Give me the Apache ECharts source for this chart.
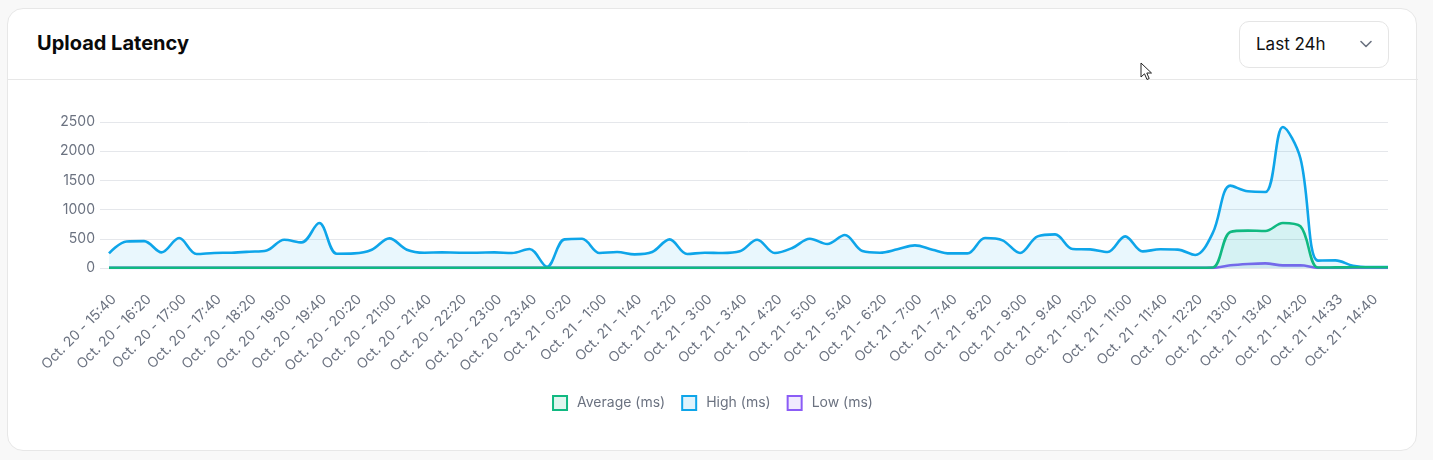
<!DOCTYPE html>
<html>
<head>
<meta charset="utf-8">
<script src="https://cdn.jsdelivr.net/npm/echarts@6/dist/echarts.min.js"></script>
<style>
  html, body { margin: 0; padding: 0; width: 1433px; height: 460px; background: #f8f8f8; font-family: Inter, "Noto Sans", sans-serif; overflow: hidden; }
  .card { position: absolute; left: 7px; top: 8px; width: 1410px; height: 443px; background: #fff; border: 1px solid #e7e7e7; border-radius: 16px; box-sizing: border-box; }
  .divider { position: absolute; left: 7px; top: 79px; width: 1411px; height: 1px; background: #e7e7e7; }
  .title { position: absolute; left: 37px; top: 31px; font-size: 20px; font-weight: 700; color: #0a0a0a; line-height: 24px; }
  .dropdown { position: absolute; left: 1239px; top: 21px; width: 150px; height: 47px; border: 1px solid #e5e5e5; border-radius: 10px; box-sizing: border-box; background: #fff; }
  .dropdown span { position: absolute; left: 16px; top: 12px; font-size: 17px; line-height: 20px; color: #111; }
  .dropdown svg { position: absolute; left: 119px; top: 17px; }
  #chart { position: absolute; left: 0; top: 0; width: 1425px; height: 460px; }
  .cursor { position: absolute; left: 1140px; top: 62px; }
</style>
</head>
<body>
<div class="card"></div>
<div class="divider"></div>
<div class="title">Upload Latency</div>
<div class="dropdown"><span>Last 24h</span>
  <svg width="14" height="10" viewBox="0 0 14 10"><path d="M2 2.5 L7 7.5 L12 2.5" fill="none" stroke="#6b7280" stroke-width="1.6" stroke-linecap="round" stroke-linejoin="round"/></svg>
</div>
<div id="chart"></div>
<svg class="cursor" width="14" height="20" viewBox="0 0 14 20"><path d="M1 1 L1 15 L4.5 11.8 L7 17.5 L9.2 16.5 L6.8 11 L11.5 11 Z" fill="#fff" stroke="#222" stroke-width="1"/></svg>
<script>
const categories = [
  "Oct. 20 - 15:40","Oct. 20 - 16:00","Oct. 20 - 16:20","Oct. 20 - 16:40","Oct. 20 - 17:00","Oct. 20 - 17:20",
  "Oct. 20 - 17:40","Oct. 20 - 18:00","Oct. 20 - 18:20","Oct. 20 - 18:40","Oct. 20 - 19:00","Oct. 20 - 19:20",
  "Oct. 20 - 19:40","Oct. 20 - 20:00","Oct. 20 - 20:20","Oct. 20 - 20:40","Oct. 20 - 21:00","Oct. 20 - 21:20",
  "Oct. 20 - 21:40","Oct. 20 - 22:00","Oct. 20 - 22:20","Oct. 20 - 22:40","Oct. 20 - 23:00","Oct. 20 - 23:20",
  "Oct. 20 - 23:40","Oct. 21 - 0:00","Oct. 21 - 0:20","Oct. 21 - 0:40","Oct. 21 - 1:00","Oct. 21 - 1:20",
  "Oct. 21 - 1:40","Oct. 21 - 2:00","Oct. 21 - 2:20","Oct. 21 - 2:40","Oct. 21 - 3:00","Oct. 21 - 3:20",
  "Oct. 21 - 3:40","Oct. 21 - 4:00","Oct. 21 - 4:20","Oct. 21 - 4:40","Oct. 21 - 5:00","Oct. 21 - 5:20",
  "Oct. 21 - 5:40","Oct. 21 - 6:00","Oct. 21 - 6:20","Oct. 21 - 6:40","Oct. 21 - 7:00","Oct. 21 - 7:20",
  "Oct. 21 - 7:40","Oct. 21 - 8:00","Oct. 21 - 8:20","Oct. 21 - 8:40","Oct. 21 - 9:00","Oct. 21 - 9:20",
  "Oct. 21 - 9:40","Oct. 21 - 10:00","Oct. 21 - 10:20","Oct. 21 - 10:40","Oct. 21 - 11:00","Oct. 21 - 11:20",
  "Oct. 21 - 11:40","Oct. 21 - 12:00","Oct. 21 - 12:20","Oct. 21 - 12:40","Oct. 21 - 13:00","Oct. 21 - 13:20",
  "Oct. 21 - 13:40","Oct. 21 - 14:00","Oct. 21 - 14:20","Oct. 21 - 14:27","Oct. 21 - 14:33","Oct. 21 - 14:37",
  "Oct. 21 - 14:40","Oct. 21 - 14:43"
];
const highMs = [
  250,455,460,267,513,240,258,262,279,301,484,438,770,245,250,313,507,313,262,267,
  262,262,267,256,325,22,490,500,256,273,233,273,490,240,262,256,285,484,256,342,
  501,410,564,290,262,320,387,313,250,250,513,473,256,541,575,325,319,274,542,285,
  320,314,223,600,1410,1313,1302,2415,1880,126,131,40,17,17
];
const averageMs = [
  5,5,5,5,5,5,5,5,5,5,5,5,5,5,5,5,5,5,5,5,
  5,5,5,5,5,5,5,5,5,5,5,5,5,5,5,5,5,5,5,5,
  5,5,5,5,5,5,5,5,5,5,5,5,5,5,5,5,5,5,5,5,
  5,5,5,8,617,640,634,771,714,8,10,12,14,14
];
const lowMs = [
  2,2,2,2,2,2,2,2,2,2,2,2,2,2,2,2,2,2,2,2,
  2,2,2,2,2,2,2,2,2,2,2,2,2,2,2,2,2,2,2,2,
  2,2,2,2,2,2,2,2,2,2,2,2,2,2,2,2,2,2,2,2,
  2,2,2,2,46,69,80,45,46,2,2,2,2,2
];
const yTicks = { min: 0, max: 2500, interval: 500 };

const C = {
  avg: '#10b981', avgFill: 'rgba(16,185,129,0.13)',
  high: '#0ea5e9', highFill: 'rgba(14,165,233,0.13)',
  low: '#8b5cf6', lowFill: 'rgba(139,92,246,0.12)'
};
const grid = '#e5e7eb';
const labelColor = '#6b7280';
const font = 'Inter';

function lineSeries(name, data, color, fill, z) {
  return {
    name, type: 'line', data, z,
    smooth: 0.35, showSymbol: false, symbol: 'none',
    lineStyle: { color, width: 2.6 },
    itemStyle: { color },
    areaStyle: { color: fill, origin: 'start' },
    emphasis: { disabled: true }
  };
}

const chart = echarts.init(document.getElementById('chart'), null, { renderer: 'canvas' });
chart.setOption({
  animation: false,
  textStyle: { fontFamily: font },
  grid: { left: 109, right: 37, top: 122, bottom: 192, containLabel: false },
  legend: {
    left: 'center', top: 390, icon: 'rect', itemWidth: 14, itemHeight: 14, itemGap: 16,
    textStyle: { color: labelColor, fontSize: 14, fontFamily: font, padding: [0, 0, 0, 5] },
    data: [
      { name: 'Average (ms)', itemStyle: { color: C.avgFill, borderColor: C.avg, borderWidth: 2 } },
      { name: 'High (ms)', itemStyle: { color: C.highFill, borderColor: C.high, borderWidth: 2 } },
      { name: 'Low (ms)', itemStyle: { color: C.lowFill, borderColor: C.low, borderWidth: 2 } }
    ]
  },
  xAxis: {
    type: 'category', data: categories, boundaryGap: false,
    axisLine: { show: false }, axisTick: { show: false }, splitLine: { show: false },
    axisLabel: { rotate: 45, interval: 1, color: labelColor, fontSize: 14, fontFamily: font, margin: 24, verticalAlign: 'top' }
  },
  yAxis: {
    type: 'value', min: yTicks.min, max: yTicks.max, interval: yTicks.interval,
    axisLine: { show: false },
    axisTick: { show: true, length: 9, lineStyle: { color: grid, width: 1 } },
    splitLine: { lineStyle: { color: grid, width: 1 } },
    axisLabel: { color: labelColor, fontSize: 14, fontFamily: font, margin: 14, formatter: v => String(v) }
  },
  series: [
    lineSeries('Low (ms)', lowMs, C.low, C.lowFill, 1),
    lineSeries('High (ms)', highMs, C.high, C.highFill, 2),
    lineSeries('Average (ms)', averageMs, C.avg, C.avgFill, 3)
  ]
});
</script>
</body>
</html>
